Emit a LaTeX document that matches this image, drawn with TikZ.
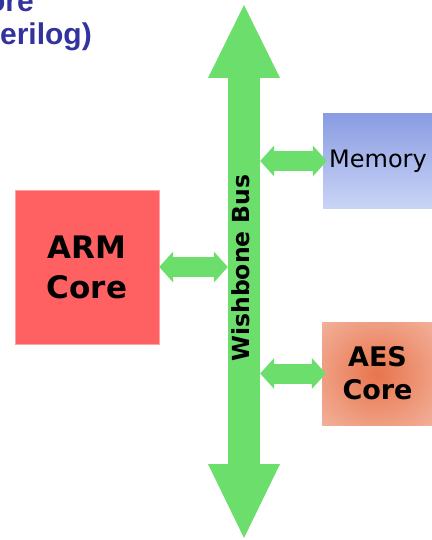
\documentclass[tikz,border=0pt]{standalone}
\usepackage{fontspec}
\setmainfont{DejaVu Sans}
\newfontfamily\titlefont{Liberation Sans}
\usetikzlibrary{arrows.meta,calc}
\definecolor{busgreen}{RGB}{108,222,108}
\definecolor{armred}{RGB}{255,96,98}
\definecolor{memtop}{RGB}{138,156,226}
\definecolor{membot}{RGB}{202,212,246}
\definecolor{aesin}{RGB}{232,116,76}
\definecolor{aesmid}{RGB}{246,200,184}
\definecolor{aesout}{RGB}{252,236,230}
\definecolor{titleblue}{RGB}{51,51,158}
\pgfdeclareradialshading{aesglow}{\pgfpoint{0bp}{0bp}}{%
  color(0bp)=(aesin); color(22bp)=(aesin!55!aesmid); color(50bp)=(aesmid); color(70bp)=(aesout); color(100bp)=(aesout)}

\begin{document}
\begin{tikzpicture}[x=1pt,y=-1pt,
    blk/.style={inner sep=0pt,align=center,text=black},
    ttl/.style={font=\titlefont\bfseries\fontsize{30}{33}\selectfont,text=titleblue,anchor=base east,inner sep=0pt},
    tip/.tip={Triangle[length=14pt 0 0,width=31pt 0 0,line width=0pt 0 0]},
    link/.style={busgreen,line width=20pt,tip-tip}]
  \useasboundingbox (0,0) rectangle (431,540);

  % title, cut off by the page edge
  \node[ttl] (ttla) at (34,12) {ore};
  \node[ttl] (ttlb) at (92,45) {erilog)};

  % the bus
  \node[fill=busgreen,minimum width=32pt,minimum height=388pt,inner sep=0pt] (bus) at (244,271) {};
  \fill[busgreen] (208,78) -- (244,5) -- (280,78) -- cycle;
  \fill[busgreen] (208,464) -- (244,538) -- (280,464) -- cycle;
  \node[rotate=90,inner sep=0pt,font=\bfseries\fontsize{23.5}{28}\selectfont] (buslbl) at (241,268) {Wishbone Bus};

  % blocks
  \node[blk,fill=armred,draw=armred!60!white,minimum width=144pt,minimum height=154pt,
        font=\bfseries\fontsize{31}{40}\selectfont] (arm) at (87,267) {ARM\\Core};
  \node[blk,top color=memtop,bottom color=membot,minimum width=110pt,minimum height=94pt,
        font=\fontsize{24}{29}\selectfont] (mem) at (378,161) {Memory};
  \node[blk,shading=aesglow,minimum width=111pt,minimum height=103pt,
        font=\bfseries\fontsize{27}{33}\selectfont] (aes) at (377.5,373.5) {AES\\Core};

  % links to the bus
  \draw[link] (arm.east) -- (arm.east -| bus.west);
  \draw[link,shorten >=-4pt] (mem.west -| bus.east) -- (mem.west);
  \draw[link,shorten >=-4pt] (aes.west -| bus.east) -- (aes.west);
\end{tikzpicture}
\end{document}
